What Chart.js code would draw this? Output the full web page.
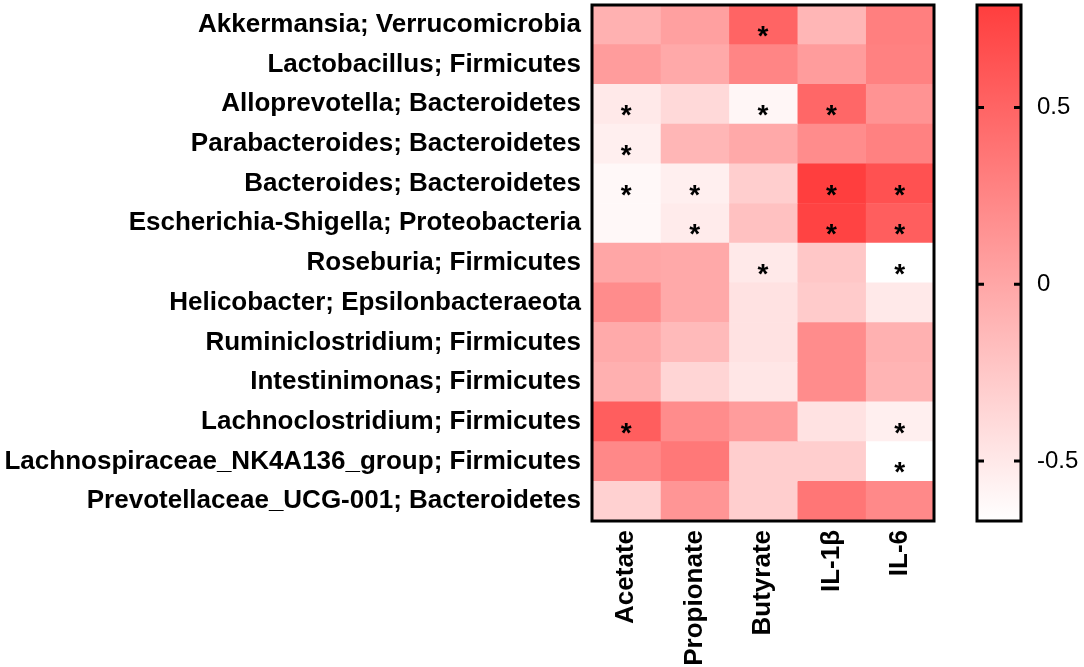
<!DOCTYPE html>
<html>
<head>
<meta charset="utf-8">
<script src="https://cdn.jsdelivr.net/npm/chart.js@4.4.1/dist/chart.umd.min.js"></script>
<style>
  html, body { margin: 0; padding: 0; background: #ffffff; }
  body { width: 1084px; height: 667px; position: relative; overflow: hidden; }
  #mainWrap { position: absolute; left: 0; top: 0; width: 950px; height: 667px; }
  #barWrap { position: absolute; left: 950px; top: 0; width: 134px; height: 667px; }
</style>
</head>
<body>
<div id="mainWrap"><canvas id="heat"></canvas></div>
<div id="barWrap"><canvas id="cbar"></canvas></div>
<script>
// ---------- DATA ----------
const rowLabels = [
  'Akkermansia; Verrucomicrobia',
  'Lactobacillus; Firmicutes',
  'Alloprevotella; Bacteroidetes',
  'Parabacteroides; Bacteroidetes',
  'Bacteroides; Bacteroidetes',
  'Escherichia-Shigella; Proteobacteria',
  'Roseburia; Firmicutes',
  'Helicobacter; Epsilonbacteraeota',
  'Ruminiclostridium; Firmicutes',
  'Intestinimonas; Firmicutes',
  'Lachnoclostridium; Firmicutes',
  'Lachnospiraceae_NK4A136_group; Firmicutes',
  'Prevotellaceae_UCG-001; Bacteroidetes'
];
const colLabels = ['Acetate', 'Propionate', 'Butyrate', 'IL-1β', 'IL-6'];

// correlation values per column (rows in order above)
const acetate    = [-0.08,  0.08, -0.50, -0.55, -0.62, -0.62,  0.00,  0.20, -0.03, -0.07,  0.55,  0.23, -0.32];
const propionate = [ 0.05, -0.02, -0.38, -0.12, -0.55, -0.52, -0.02, -0.02, -0.15, -0.35,  0.20,  0.35,  0.13];
const butyrate   = [ 0.50,  0.25, -0.60, -0.02, -0.30, -0.20, -0.50, -0.45, -0.45, -0.48,  0.08, -0.30, -0.30];
const il1b       = [-0.12,  0.08,  0.48,  0.20,  0.79,  0.75, -0.25, -0.28,  0.20,  0.20, -0.45, -0.30,  0.37];
const il6        = [ 0.30,  0.28,  0.15,  0.28,  0.65,  0.55, -0.67, -0.50, -0.08, -0.10, -0.55, -0.67,  0.22];
const columns = [acetate, propionate, butyrate, il1b, il6];

// significance markers (row indices) per column
const sigAcetate    = [2, 3, 4, 10];
const sigPropionate = [4, 5];
const sigButyrate   = [0, 2, 6];
const sigIL1b       = [2, 4, 5];
const sigIL6        = [4, 5, 6, 10, 11];
const sigs = [sigAcetate, sigPropionate, sigButyrate, sigIL1b, sigIL6];

// colour scale
const scaleMin = -0.67;
const scaleMax = 0.79;
const scaleTicks = [-0.5, 0, 0.5];
const lowColor  = [255, 255, 255];
const highColor = [255, 62, 62];

// ---------- helpers ----------
function colorFor(v) {
  let t = (v - scaleMin) / (scaleMax - scaleMin);
  t = Math.max(0, Math.min(1, t));
  const c = lowColor.map((lo, i) => Math.round(lo + (highColor[i] - lo) * t));
  return `rgb(${c[0]},${c[1]},${c[2]})`;
}

const FONT = "'Liberation Sans', Arial, sans-serif";

function noPad(s) { s.paddingTop = 0; s.paddingBottom = 0; s.paddingLeft = 0; s.paddingRight = 0; }

// ---------- heatmap ----------
const frame = {
  id: 'frame',
  afterDatasetsDraw(chart) {
    const { ctx, chartArea: a } = chart;
    ctx.save();
    // asterisks
    ctx.fillStyle = '#000';
    ctx.font = `bold 28px ${FONT}`;
    ctx.textAlign = 'center';
    ctx.textBaseline = 'alphabetic';
    chart.data.datasets.forEach((ds, di) => {
      const meta = chart.getDatasetMeta(di);
      sigs[di].forEach(ri => {
        const el = meta.data[ri];
        const cx = (el.x + el.base) / 2;
        ctx.fillText('*', cx, el.y + 20);
      });
    });
    ctx.strokeStyle = '#000';
    ctx.lineWidth = 3;
    ctx.strokeRect(a.left, a.top, a.right - a.left, a.bottom - a.top);
    ctx.restore();
  }
};

new Chart(document.getElementById('heat'), {
  type: 'bar',
  data: {
    labels: rowLabels,
    datasets: columns.map((vals, ci) => ({
      label: colLabels[ci],
      data: vals.map(() => 1),
      backgroundColor: vals.map(colorFor),
      borderWidth: 0,
      categoryPercentage: 1,
      barPercentage: 1,
      xAxisID: 'x',
      yAxisID: 'y'
    }))
  },
  options: {
    indexAxis: 'y',
    responsive: true,
    maintainAspectRatio: false,
    animation: false,
    layout: { padding: { top: 5, right: 16, left: 0, bottom: 0 } },
    plugins: { legend: { display: false }, tooltip: { enabled: false } },
    scales: {
      x: { type: 'linear', stacked: true, min: 0, max: colLabels.length, display: false },
      xl: {
        type: 'category', labels: colLabels, position: 'bottom', offset: true,
        grid: { display: false, drawTicks: false }, border: { display: false },
        ticks: {
          autoSkip: false, maxRotation: 90, minRotation: 90, padding: 9,
          color: '#000', font: { family: FONT, size: 26, weight: 'bold' }
        },
        afterFit(s) { s.height = 146; noPad(s); }
      },
      y: {
        type: 'category', stacked: true, offset: true,
        grid: { display: false, drawTicks: false }, border: { display: false },
        ticks: { padding: 11, color: '#000', font: { family: FONT, size: 26, weight: 'bold' } },
        afterFit(s) { s.width = 592; noPad(s); }
      }
    }
  },
  plugins: [frame]
});

// ---------- colour bar ----------
const cbFrame = {
  id: 'cbFrame',
  afterDatasetsDraw(chart) {
    const { ctx, chartArea: a } = chart;
    const ys = chart.scales.y;
    ctx.save();
    ctx.strokeStyle = '#000';
    ctx.lineWidth = 3;
    scaleTicks.forEach(v => {
      const y = ys.getPixelForValue(v);
      ctx.beginPath();
      ctx.moveTo(a.left, y); ctx.lineTo(a.left + 7, y);
      ctx.moveTo(a.right, y); ctx.lineTo(a.right - 7, y);
      ctx.stroke();
    });
    ctx.strokeRect(a.left, a.top, a.right - a.left, a.bottom - a.top);
    ctx.restore();
  }
};

new Chart(document.getElementById('cbar'), {
  type: 'bar',
  data: {
    labels: [''],
    datasets: [{
      data: [[scaleMin, scaleMax]],
      borderWidth: 0,
      categoryPercentage: 1,
      barPercentage: 1,
      backgroundColor(ctx) {
        const a = ctx.chart.chartArea;
        if (!a) return colorFor(scaleMax);
        const g = ctx.chart.ctx.createLinearGradient(0, a.bottom, 0, a.top);
        g.addColorStop(0, colorFor(scaleMin));
        g.addColorStop(1, colorFor(scaleMax));
        return g;
      }
    }]
  },
  options: {
    responsive: true,
    maintainAspectRatio: false,
    animation: false,
    layout: { padding: { top: 5, left: 27, right: 0, bottom: 146 } },
    plugins: { legend: { display: false }, tooltip: { enabled: false } },
    scales: {
      x: { display: false },
      y: {
        position: 'right', min: scaleMin, max: scaleMax,
        grid: { display: false, drawTicks: false }, border: { display: false },
        afterBuildTicks(s) { s.ticks = scaleTicks.map(v => ({ value: v })); },
        ticks: {
          padding: 16, color: '#000',
          font: { family: FONT, size: 24 },
          callback: v => String(v)
        },
        afterFit(s) { s.width = 63; noPad(s); }
      }
    }
  },
  plugins: [cbFrame]
});
</script>
</body>
</html>
